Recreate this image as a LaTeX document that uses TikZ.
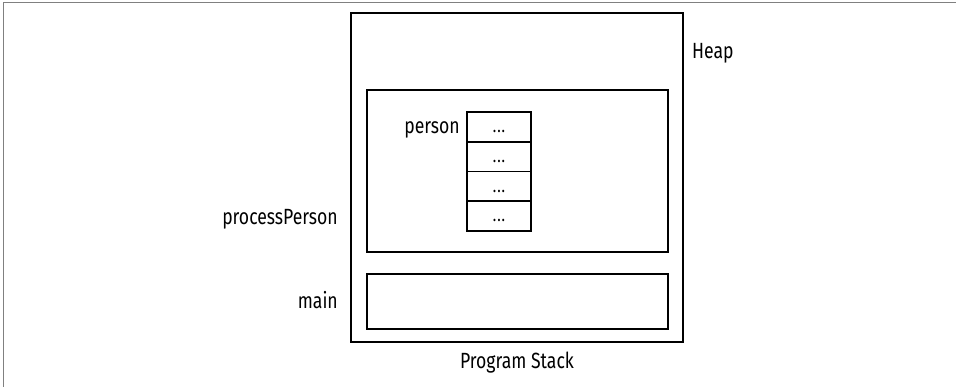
\documentclass[tikz,border=0pt]{standalone}
\usepackage{fontspec}
\setmainfont{Fira Sans}[FakeStretch=0.8]
\begin{document}
\begin{tikzpicture}[x=1pt,y=-1pt,
  box/.style={draw=black,line width=1.8pt,anchor=north west,inner sep=0pt,outer sep=0pt},
  lbl/.style={font=\fontsize{22}{26}\selectfont,inner sep=0pt},
  dots/.style={font=\fontsize{18}{20}\selectfont,inner sep=0pt},
  frame/.style={draw=black!50,line width=1pt}]
\useasboundingbox (0,0) rectangle (956,387);
\coordinate (tl) at (3,3);
\coordinate (tr) at (956,3);
\coordinate (bl) at (3,387);
\draw[frame] (tr) -- (tl) -- (bl);
\node[box,minimum width=332pt,minimum height=329pt] (stack) at (351,13) {};
\node[box,minimum width=301pt,minimum height=162pt] (proc) at (367,90) {};
\node[box,minimum width=301pt,minimum height=55pt] (mainbox) at (367,274) {};
\foreach \i in {0,1,2,3}{
  \node[box,minimum width=64pt,minimum height=29.75pt] (c\i) at (467,112+29.75*\i) {};
  \node[dots,anchor=base] (d\i) at ([yshift=9pt]c\i.south) {.\kern1pt.\kern1pt.};
}
\node[lbl,anchor=base west] (heap) at (692,59) {Heap};
\node[lbl,anchor=base east] (person) at (460,134) {person};
\node[lbl,anchor=base east] (pp) at (338,225) {processPerson};
\node[lbl,anchor=base east] (mn) at (338,309) {main};
\node[lbl,anchor=base] (ps) at (517,368) {Program Stack};
\end{tikzpicture}
\end{document}
